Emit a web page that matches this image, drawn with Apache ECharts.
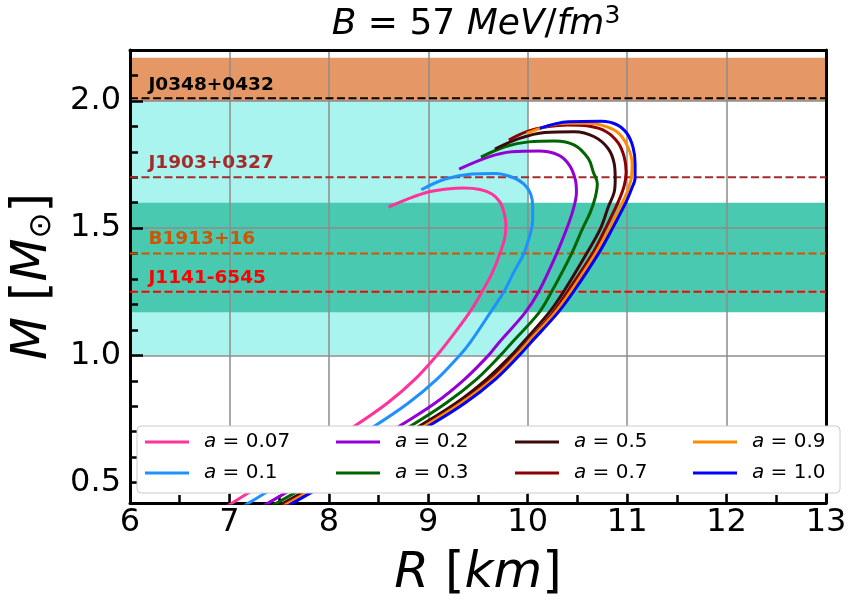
<!DOCTYPE html>
<html>
<head>
<meta charset="utf-8">
<script src="https://cdn.jsdelivr.net/npm/echarts@6/dist/echarts.min.js"></script>
<style>
html,body{margin:0;padding:0;background:#fff;}
#chart{width:853px;height:611px;}
</style>
</head>
<body>
<div id="chart"></div>
<script>
// M-R curves, one array per value of a: [R (km), M (Msun)]
var aValues = ['0.07', '0.1', '0.2', '0.3', '0.5', '0.7', '0.9', '1.0'];
var curveColors = ['#ff3399', '#1e90ff', '#9400d3', '#006400', '#3b0b0b', '#8b0000', '#ff8c00', '#0000ff'];

var mr_a007 = [[8.60,1.583],[8.79,1.614],[9.00,1.642],[9.19,1.654],[9.36,1.658],[9.52,1.652],[9.64,1.634],[9.72,1.603],[9.76,1.563],[9.78,1.516],[9.77,1.464],[9.72,1.399],[9.64,1.322],[9.54,1.250],[9.41,1.166],[9.19,1.050],[9.09,1.002],[8.87,0.908],[8.59,0.813],[8.23,0.715],[7.67,0.577],[7.10,0.438],[6.88,0.383]];
var mr_a01 = [[8.93,1.651],[9.17,1.693],[9.44,1.713],[9.67,1.715],[9.84,1.701],[9.96,1.674],[10.03,1.634],[10.05,1.583],[10.05,1.532],[10.03,1.484],[10.00,1.445],[9.96,1.399],[9.86,1.327],[9.76,1.250],[9.62,1.166],[9.42,1.050],[9.32,1.002],[9.09,0.908],[8.80,0.813],[8.43,0.715],[7.85,0.577],[7.27,0.438],[7.04,0.383]];
var mr_a02 = [[9.31,1.732],[9.61,1.780],[9.84,1.800],[10.11,1.803],[10.31,1.787],[10.42,1.747],[10.48,1.689],[10.49,1.642],[10.47,1.591],[10.41,1.516],[10.29,1.399],[10.11,1.250],[9.97,1.166],[9.71,1.050],[9.61,1.002],[9.37,0.908],[9.07,0.813],[8.68,0.715],[8.08,0.577],[7.47,0.438],[7.23,0.383]];
var mr_a03 = [[9.53,1.779],[9.77,1.820],[10.01,1.839],[10.27,1.842],[10.47,1.826],[10.61,1.773],[10.66,1.720],[10.70,1.674],[10.68,1.622],[10.63,1.563],[10.55,1.497],[10.44,1.399],[10.24,1.250],[10.11,1.166],[9.84,1.050],[9.73,1.002],[9.49,0.908],[9.18,0.813],[8.79,0.715],[8.18,0.577],[7.56,0.438],[7.31,0.383]];
var mr_a05 = [[9.67,1.811],[9.91,1.852],[10.17,1.876],[10.47,1.879],[10.67,1.859],[10.81,1.812],[10.87,1.753],[10.88,1.693],[10.87,1.642],[10.81,1.583],[10.73,1.497],[10.59,1.399],[10.36,1.250],[10.21,1.166],[9.95,1.050],[9.84,1.002],[9.59,0.908],[9.28,0.813],[8.88,0.715],[8.26,0.577],[7.63,0.438],[7.38,0.383]];
var mr_a07 = [[9.81,1.846],[9.99,1.879],[10.21,1.899],[10.40,1.905],[10.61,1.901],[10.79,1.879],[10.91,1.835],[10.97,1.780],[10.99,1.721],[10.97,1.666],[10.91,1.603],[10.78,1.497],[10.65,1.399],[10.40,1.250],[10.25,1.166],[9.99,1.050],[9.88,1.002],[9.63,0.908],[9.32,0.813],[8.92,0.715],[8.29,0.577],[7.66,0.438],[7.40,0.383]];
var mr_a09 = [[9.99,1.872],[10.21,1.903],[10.40,1.912],[10.61,1.912],[10.79,1.899],[10.92,1.871],[11.01,1.816],[11.05,1.753],[11.04,1.693],[11.00,1.642],[10.93,1.583],[10.82,1.497],[10.68,1.399],[10.43,1.250],[10.27,1.166],[10.00,1.050],[9.89,1.002],[9.65,0.908],[9.33,0.813],[8.93,0.715],[8.31,0.577],[7.68,0.438],[7.43,0.383]];
var mr_a10 = [[10.12,1.892],[10.41,1.918],[10.74,1.920],[10.90,1.906],[11.00,1.871],[11.06,1.816],[11.08,1.753],[11.08,1.697],[11.04,1.650],[10.99,1.603],[10.85,1.497],[10.71,1.399],[10.46,1.250],[10.30,1.166],[10.03,1.050],[9.92,1.002],[9.68,0.908],[9.37,0.813],[8.97,0.715],[8.34,0.577],[7.72,0.438],[7.47,0.383]];
var curves = [mr_a007, mr_a01, mr_a02, mr_a03, mr_a05, mr_a07, mr_a09, mr_a10];

// pulsar masses
var pulsarNames = ['J0348+0432', 'J1903+0327', 'B1913+16', 'J1141-6545'];
var pulsarMass = [2.01, 1.70, 1.40, 1.25];
var pulsarLabelR = [6.18, 6.18, 6.18, 6.18];
var pulsarLabelM = [2.06, 1.755, 1.455, 1.305];
var pulsarColors = ['#000000', '#a52a2a', '#d35400', '#ff0000'];

// shaded bands [from, to]
var bandOrangeM = [2.0, 2.17];
var bandCyanR = [6, 10];
var bandCyanM = [1.0, 2.0];
var bandTealM = [1.17, 1.6];

var xRange = [6, 13];
var yRange = [0.42, 2.2];
var yMajor = [0.5, 1.0, 1.5, 2.0];
var yMinor = [0.5, 0.6, 0.7, 0.8, 0.9, 1.0, 1.1, 1.2, 1.3, 1.4, 1.5, 1.6, 1.7, 1.8, 1.9, 2.0, 2.1, 2.2];

var font = 'DejaVu Sans';
var chart = echarts.init(document.getElementById('chart'));

var series = [];
series.push({
    type: 'line', data: [], z: 1, silent: true,
    markArea: {
        silent: true,
        data: [
            [{xAxis: xRange[0], yAxis: bandOrangeM[0], itemStyle: {color: '#e59866', opacity: 1}}, {xAxis: xRange[1], yAxis: bandOrangeM[1]}],
            [{xAxis: bandCyanR[0], yAxis: bandCyanM[0], itemStyle: {color: '#a9f4ee', opacity: 1}}, {xAxis: bandCyanR[1], yAxis: bandCyanM[1]}],
            [{xAxis: xRange[0], yAxis: bandTealM[0], itemStyle: {color: '#48c9b0', opacity: 1}}, {xAxis: xRange[1], yAxis: bandTealM[1]}]
        ]
    }
});
for (var p = 0; p < pulsarNames.length; p++) {
    series.push({
        type: 'line', z: 3, silent: true, symbol: 'none',
        data: [[xRange[0], pulsarMass[p]], [xRange[1], pulsarMass[p]]],
        lineStyle: {color: pulsarColors[p], width: 2, type: [8, 3.5]}
    });
}
for (var i = 0; i < curves.length; i++) {
    series.push({
        name: aValues[i], type: 'line', z: 3, data: curves[i],
        symbol: 'none', smooth: 0.35, color: curveColors[i],
        lineStyle: {color: curveColors[i], width: 3}
    });
}
series.push({
    type: 'scatter', z: 4, silent: true, symbolSize: 1,
    itemStyle: {color: 'transparent'},
    data: pulsarNames.map(function (n, k) {
        return {name: n, value: [pulsarLabelR[k], pulsarLabelM[k]], label: {color: pulsarColors[k]}};
    }),
    label: {
        show: true, position: 'right', distance: 0, formatter: '{b}', opacity: 1,
        fontFamily: font, fontWeight: 'bold', fontSize: 18.5
    }
});

var legendLeft = [145, 336, 515, 693];
var legends = legendLeft.map(function (x, c) {
    return {
        orient: 'vertical', left: x, top: 430, padding: 0, itemGap: 7,
        itemWidth: 44, itemHeight: 3, icon: 'rect', selectedMode: false, z: 20,
        data: [aValues[2 * c], aValues[2 * c + 1]],
        formatter: '{i|a} = {name}',
        textStyle: {
            fontFamily: font, fontSize: 20, lineHeight: 24, color: '#000', padding: [0, 0, 0, 10],
            rich: {i: {fontFamily: font, fontSize: 20, fontStyle: 'italic', color: '#000'}}
        }
    };
});

var tickStyle = {color: '#000', width: 2.5};
var spine = {show: true, onZero: false, lineStyle: {color: '#000', width: 3}};
var gridLine = {show: true, lineStyle: {color: '#8c8c8c', width: 1.5}};

chart.setOption({
    animation: false,
    backgroundColor: '#fff',
    title: {
        text: '{i|B}{n| = 57 }{i|MeV}{n|/}{i|fm}{s|3}',
        left: 476, top: 4, padding: 0, textAlign: 'center',
        textStyle: {
            fontFamily: font, fontSize: 36, fontWeight: 'normal', color: '#000',
            rich: {
                i: {fontFamily: font, fontSize: 36, fontStyle: 'italic', lineHeight: 42, verticalAlign: 'middle', color: '#000'},
                n: {fontFamily: font, fontSize: 36, lineHeight: 42, verticalAlign: 'middle', color: '#000'},
                s: {fontFamily: font, fontSize: 25, lineHeight: 26, verticalAlign: 'top', color: '#000'}
            }
        }
    },
    grid: {left: 127.5, right: 27, top: 50, bottom: 108, containLabel: false},
    legend: legends,
    graphic: [{
        type: 'rect', z: 15, silent: true,
        shape: {x: 137, y: 426, width: 703, height: 67, r: 4},
        style: {fill: '#ffffff', stroke: '#cccccc', lineWidth: 1}
    }],
    xAxis: [{
        type: 'value', min: xRange[0], max: xRange[1], interval: 1, position: 'bottom', z: 2,
        axisLine: spine,
        axisTick: {show: true, inside: true, length: 9, lineStyle: tickStyle},
        minorTick: {show: true, splitNumber: 2, length: 8, lineStyle: tickStyle},
        axisLabel: {fontFamily: font, fontSize: 32, color: '#000', margin: 4},
        splitLine: gridLine,
        name: '{i|R}{n| [}{i|km}{n|]}', nameLocation: 'middle', nameGap: 42,
        nameTextStyle: {
            rich: {
                i: {fontFamily: font, fontSize: 50, fontStyle: 'italic', lineHeight: 58, color: '#000'},
                n: {fontFamily: font, fontSize: 50, lineHeight: 58, color: '#000'}
            }
        }
    }, {
        type: 'value', min: xRange[0], max: xRange[1], position: 'top', z: 2,
        axisLine: spine, axisTick: {show: false}, axisLabel: {show: false}, splitLine: {show: false}
    }],
    yAxis: [{
        type: 'value', min: yRange[0], max: yRange[1], position: 'left', z: 2,
        axisLine: spine,
        axisTick: {show: true, inside: true, length: 13, customValues: yMajor, lineStyle: tickStyle},
        axisLabel: {
            customValues: yMajor, fontFamily: font, fontSize: 32, color: '#000', margin: 9,
            formatter: function (v) { return v.toFixed(1); }
        },
        splitLine: gridLine,
        name: '{i|M}{n| [}{i|M}{sub|⊙}{n|]}', nameLocation: 'middle', nameGap: 68, nameRotate: 90,
        nameTextStyle: {
            rich: {
                i: {fontFamily: font, fontSize: 50, fontStyle: 'italic', lineHeight: 58, color: '#000'},
                n: {fontFamily: font, fontSize: 50, lineHeight: 58, color: '#000'},
                sub: {fontFamily: font, fontSize: 31, lineHeight: 58, padding: [17, 0, 0, 0], color: '#000'}
            }
        }
    }, {
        type: 'value', min: yRange[0], max: yRange[1], position: 'left', z: 2,
        axisLine: {show: false},
        axisTick: {show: true, inside: true, length: 8, customValues: yMinor, lineStyle: tickStyle},
        axisLabel: {show: false}, splitLine: {show: false}
    }, {
        type: 'value', min: yRange[0], max: yRange[1], position: 'right', z: 2,
        axisLine: spine, axisTick: {show: false}, axisLabel: {show: false}, splitLine: {show: false}
    }],
    series: series
});
</script>
</body>
</html>
